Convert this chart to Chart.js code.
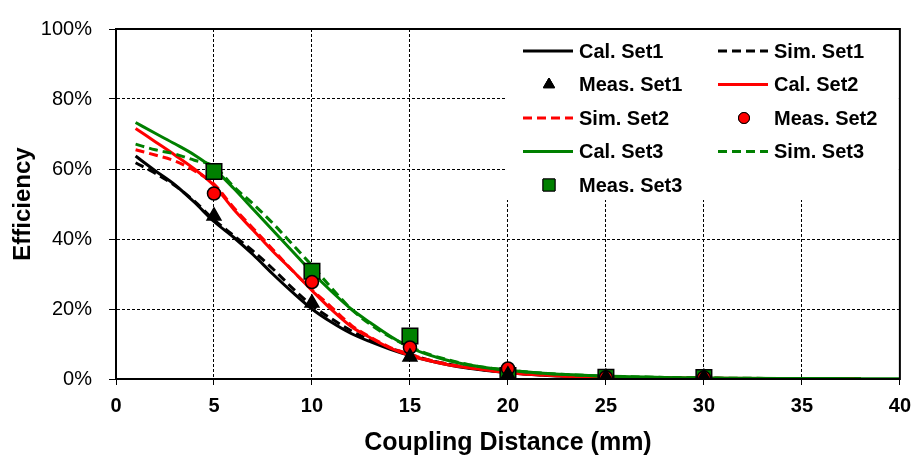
<!DOCTYPE html>
<html>
<head>
<meta charset="utf-8">
<script src="https://cdn.jsdelivr.net/npm/chart.js@4.4.1/dist/chart.umd.min.js"></script>
<style>
  html, body { margin: 0; padding: 0; background: #fff; }
  #wrap { width: 920px; height: 459px; }
</style>
</head>
<body>
<div id="wrap"><canvas id="c" width="920" height="459"></canvas></div>
<script>
// ---- data ----
const distance = [1,2,3,4,5,6,7,8,9,10,11,12,13,14,15,16,17,18,20,22,25,28,30,35,38,40];
const calSet1 = [63.7,59.5,55.5,50.5,45,40.5,35.5,30,24.8,20,16.2,13,10.6,8.5,6.7,5.2,4,3.1,1.8,1.0,0.5,0.25,0.15,0.1,0.05,null];
const simSet1 = [61.8,58.8,55.3,50.8,45.5,41,36.5,31.5,26,21,17.2,13.8,11,8.8,7,5.4,4.2,3.2,1.9,1.1,0.5,0.3,0.2,0.1,0.05,null];
const calSet2 = [71.6,67.8,64,60,55.3,48.5,42.5,36.5,31,25.3,19.8,15,11.7,8.8,6.7,5.2,4,3.2,1.8,1.1,0.5,0.3,0.2,0.1,0.05,null];
const simSet2 = [65.5,64,62.3,59.5,55.7,49,43,37,31,25.5,20.5,15.4,11.9,9,7,5.4,4.2,3.3,1.9,1.1,0.5,0.3,0.2,0.1,0.05,null];
const calSet3 = [73.3,70.2,67.2,64,60,54.5,48.5,42.5,36.5,30.5,25,20,16,12.2,9,6.8,5.2,4,2.5,1.6,0.85,0.45,0.3,0.15,0.1,0.05];
const simSet3 = [67.1,65.5,64.3,62.5,60.8,55,50,44.5,38.5,32.4,26,20,15.5,12,9.2,7,5.4,4.1,2.5,1.6,0.8,0.45,0.3,0.12,0.08,null];
const measDistance = [5,10,15,20,25,30];
const measSet1 = [46.6,21.7,6.3,1.2,0.5,0.5];
const measSet2 = [53,27.7,9,3,0.5,0.4];
const measSet3 = [59.3,30.8,12.3,1,0.5,0.4];
const xTicks = [0,5,10,15,20,25,30,35,40];
const yTicks = [0,20,40,60,80,100];

const toPts = (xs, ys) => xs.map((x, i) => ({x: x, y: ys[i]}));
const FONT = "'Liberation Sans', Arial, sans-serif";

function lineDs(label, ys, color, dashed, order) {
  return { label, data: toPts(distance, ys), borderColor: color, backgroundColor: color,
    borderWidth: 3, borderDash: dashed ? [9,5] : [], pointRadius: 0,
    cubicInterpolationMode: 'monotone', fill: false, order: order, spanGaps: false };
}
function measDs(label, ys, style, color, r) {
  return { label, data: toPts(measDistance, ys), showLine: false, pointStyle: style,
    pointRadius: r, pointBackgroundColor: color, pointBorderColor: '#000',
    pointBorderWidth: 1.5, borderColor: '#000', backgroundColor: color, order: 0 };
}

const datasets = [
  lineDs('Cal. Set1', calSet1, '#000000', false, 3),
  lineDs('Sim. Set1', simSet1, '#000000', true, 3),
  measDs('Meas. Set1', measSet1, 'triangle', '#000000', 8),
  lineDs('Cal. Set2', calSet2, '#ff0000', false, 2),
  lineDs('Sim. Set2', simSet2, '#ff0000', true, 2),
  measDs('Meas. Set2', measSet2, 'circle', '#ff0000', 6.5),
  lineDs('Cal. Set3', calSet3, '#008000', false, 1),
  lineDs('Sim. Set3', simSet3, '#008000', true, 1),
  measDs('Meas. Set3', measSet3, 'rect', '#008000', 11)
];

const legendPlugin = {
  id: 'boxLegend',
  beforeDatasetsDraw(chart) {
    const ctx = chart.ctx;
    ctx.save();
    ctx.fillStyle = '#fff';
    ctx.fillRect(507, 30, chart.chartArea.right - 508, 170);
    ctx.restore();
  },
  afterDraw(chart) {
    const ctx = chart.ctx;
    const a = chart.chartArea;
    ctx.save();
    ctx.strokeStyle = '#000';
    ctx.lineWidth = 2;
    ctx.setLineDash([]);
    ctx.strokeRect(a.left, a.top, a.right - a.left, a.bottom - a.top);
    const colX = [523, 718];
    const rowY0 = 51, rowH = 33.5, sampleW = 50;
    chart.data.datasets.forEach((ds, i) => {
      const col = i % 2, row = Math.floor(i / 2);
      const x0 = colX[col], y = rowY0 + row * rowH;
      if (ds.showLine === false) {
        const small = {triangle: 6.5, circle: 5.5, rect: 8.5}[ds.pointStyle];
        ctx.fillStyle = ds.pointBackgroundColor;
        ctx.strokeStyle = '#000';
        ctx.lineWidth = 1;
        Chart.helpers.drawPoint(ctx, {pointStyle: ds.pointStyle, radius: small, borderWidth: 1}, x0 + sampleW / 2 + 1, y);
        ctx.fill();
        ctx.stroke();
      } else {
        ctx.strokeStyle = ds.borderColor;
        ctx.lineWidth = 3;
        ctx.setLineDash(ds.borderDash.length ? [9, 5] : []);
        ctx.beginPath();
        ctx.moveTo(x0, y);
        ctx.lineTo(x0 + sampleW, y);
        ctx.stroke();
        ctx.setLineDash([]);
      }
      ctx.fillStyle = '#000';
      ctx.font = "bold 20px " + FONT;
      ctx.textBaseline = 'middle';
      ctx.textAlign = 'left';
      ctx.fillText(ds.label, x0 + sampleW + 6, y + 1);
    });
    ctx.restore();
  }
};

new Chart(document.getElementById('c'), {
  type: 'line',
  data: { datasets },
  options: {
    responsive: false,
    animation: false,
    devicePixelRatio: 1,
    layout: { padding: { left: 0, right: 17, top: 22, bottom: 0 } },
    plugins: { legend: { display: false }, tooltip: { enabled: false } },
    scales: {
      x: {
        type: 'linear', min: 0, max: 40,
        afterBuildTicks: s => { s.ticks = xTicks.map(v => ({value: v})); },
        afterFit: s => { s.height = 80; },
        ticks: { color: '#000', font: { family: FONT, size: 20, weight: 'bold' }, padding: 9, maxRotation: 0 },
        grid: { color: '#000', lineWidth: 1, drawTicks: true, tickLength: 6, tickColor: '#000' },
        border: { display: true, color: '#000', width: 2, dash: [3, 2] },
        title: { display: true, text: 'Coupling Distance (mm)', color: '#000',
          font: { family: FONT, size: 25, weight: 'bold', lineHeight: 1.2 }, padding: { top: 0, bottom: 1 } }
      },
      y: {
        type: 'linear', min: 0, max: 100,
        afterBuildTicks: s => { s.ticks = yTicks.map(v => ({value: v})); },
        afterFit: s => { s.width = 116; },
        ticks: { color: '#000', font: { family: FONT, size: 20 }, padding: 17, callback: v => v + '%' },
        grid: { color: '#000', lineWidth: 1, drawTicks: true, tickLength: 7, tickColor: '#000' },
        border: { display: true, color: '#000', width: 2, dash: [3, 2] },
        title: { display: true, text: 'Efficiency', color: '#000',
          font: { family: FONT, size: 24, weight: 'bold', lineHeight: 1.2 }, padding: { top: 9, bottom: 0 } }
      }
    }
  },
  plugins: [legendPlugin]
});
</script>
</body>
</html>
